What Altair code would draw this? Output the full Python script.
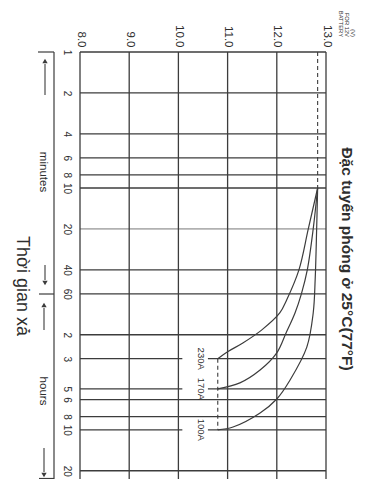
import altair as alt
import pandas as pd

# ---------------- data ----------------
volt_ticks = [8.0, 9.0, 10.0, 11.0, 12.0, 13.0]
grid_minutes = [1, 2, 4, 6, 8, 10, 20, 40, 60, 120, 180, 300, 360, 480, 600, 1200]

currents = ["230A", "170A", "100A"]
end_minutes = [180, 300, 600]
initial_v = 12.83
cutoff_v = 10.8

t_230A = [10, 20, 40, 66.6, 83, 111, 138, 160, 180]
v_230A = [12.83, 12.64, 12.45, 12.20, 12.06, 11.69, 11.31, 11.0, 10.8]

t_170A = [10, 20, 40, 60, 83, 116, 163, 218, 271, 300]
v_170A = [12.83, 12.74, 12.62, 12.50, 12.37, 12.19, 12.0, 11.66, 11.25, 10.8]

t_100A = [10, 20, 47, 83, 148, 258, 356, 451, 572, 600]
v_100A = [12.83, 12.81, 12.78, 12.74, 12.61, 12.27, 12.0, 11.66, 11.11, 10.8]

title_text = "Đặc tuyến phóng ở 25°C(77°F)"
x_title = "Thời gian xả"
unit_lines = ["(V)", "FOR 12V", "BATTERY"]

# ---------------- layout constants ----------------
T_MIN, T_MAX = 1, 1380
V_MIN, V_MAX = 8.0, 13.0
LABEL_V = 10.45
GAP_LO, GAP_HI = 10.08, 10.6
W, H = 246, 427
FONT = "Liberation Sans"
INK = "#3c3c3c"
TXT = "#2e2e2e"

xscale = alt.Scale(domain=[V_MIN, V_MAX], nice=False, zero=False)
yscale = alt.Scale(type="log", domain=[T_MIN, T_MAX], nice=False, reverse=True)

xaxis = alt.Axis(orient="top", values=volt_ticks, format=".1f", labelAngle=90,
                 labelAlign="right", labelBaseline="middle", labelPadding=5,
                 ticks=False, tickSize=0, domain=False, grid=False, title=None,
                 labelFontSize=11.5, labelFont=FONT, labelColor=TXT,
                 labelFlush=False, labelOverlap=False)
yaxis = alt.Axis(values=grid_minutes,
                 labelExpr="datum.value > 60 ? format(datum.value / 60, 'd') : format(datum.value, 'd')",
                 labelAngle=90, labelAlign="center", labelBaseline="top", labelPadding=9,
                 ticks=False, tickSize=0, domain=False, grid=False, title=None,
                 labelFontSize=10, labelFont=FONT, labelColor=TXT,
                 labelFlush=False, labelOverlap=False)

X = lambda f="v": alt.X(f"{f}:Q", scale=xscale, axis=xaxis)
Y = lambda f="t": alt.Y(f"{f}:Q", scale=yscale, axis=yaxis)

# curves table
rows = []
for name, ts, vs in [("230A", t_230A, v_230A), ("170A", t_170A, v_170A), ("100A", t_100A, v_100A)]:
    for i, (t, v) in enumerate(zip(ts, vs)):
        rows.append({"series": name, "i": i, "t": t, "v": v})
curves = pd.DataFrame(rows)

# horizontal gridlines (split where the current labels sit)
hrows = []
for t in grid_minutes:
    if t in end_minutes:
        hrows.append({"t": t, "v": V_MIN, "v2": GAP_LO, "thin": 0})
        hrows.append({"t": t, "v": GAP_HI, "v2": V_MAX, "thin": 0})
    else:
        hrows.append({"t": t, "v": V_MIN, "v2": V_MAX, "thin": 1 if t == 20 else 0})
hgrid = pd.DataFrame(hrows)

vgrid = pd.DataFrame({"v": volt_ticks, "t": [T_MIN] * len(volt_ticks), "t2": [T_MAX] * len(volt_ticks)})

dash_df = pd.DataFrame({"v": [initial_v, cutoff_v], "t": [T_MIN, end_minutes[0]], "t2": [10, end_minutes[-1]]})

labels_df = pd.DataFrame({"label": currents, "t": end_minutes, "v": [LABEL_V] * 3})

dummy = pd.DataFrame({"k": [0]})

layers = []

layers.append(alt.Chart(vgrid).mark_rule(color=INK, strokeWidth=1.3).encode(
    x=X(), y=Y(), y2="t2:Q"))

layers.append(alt.Chart(hgrid).mark_rule(color=INK).encode(
    x=X(), x2="v2:Q", y=Y(),
    strokeWidth=alt.condition("datum.thin == 1", alt.value(0.7), alt.value(1.3))))

layers.append(alt.Chart(dash_df).mark_rule(color=INK, strokeWidth=1.1, strokeDash=[4, 3]).encode(
    x=X(), y=Y(), y2="t2:Q"))

layers.append(alt.Chart(curves).mark_line(color=INK, strokeWidth=1.2, interpolate="catmull-rom").encode(
    x=X(), y=Y(), detail="series:N", order=alt.Order("i:Q")))

layers.append(alt.Chart(labels_df).mark_text(angle=90, align="center", baseline="middle",
                                             fontSize=9.5, font=FONT, color=TXT).encode(
    x=X(), y=Y(), text="label:N"))

# left bracket with arrows
def rule_px(x1, y1, x2=None, y2=None, w=1.2):
    enc = dict(x=alt.value(x1), y=alt.value(y1))
    if x2 is not None:
        enc["x2"] = alt.value(x2)
    if y2 is not None:
        enc["y2"] = alt.value(y2)
    return alt.Chart(dummy).mark_rule(color=INK, strokeWidth=w).encode(**enc)

def head(x, y, shape):
    return alt.Chart(dummy).mark_point(shape=shape, filled=True, size=28, color=INK, opacity=1).encode(
        x=alt.value(x), y=alt.value(y))

layers += [
    rule_px(-26, 0, y2=H),
    rule_px(-42, 0, x2=-26),
    rule_px(-41, 242, x2=-26),
    rule_px(-41, H - 0.5, x2=-26),
    rule_px(-35, 43, y2=12, w=1.1), head(-35, 9, "triangle-up"),
    rule_px(-35, 213, y2=228, w=1.1), head(-35, 231, "triangle-down"),
    rule_px(-36, 278, y2=256, w=1.1), head(-36, 253, "triangle-up"),
    rule_px(-36, 396, y2=420, w=1.1), head(-36, 423, "triangle-down"),
]

def text_px(s, x, y, size, bold=False, align="center"):
    return alt.Chart(pd.DataFrame({"label": [s]})).mark_text(
        angle=90, align=align, baseline="middle", fontSize=size, font=FONT, color=TXT,
        fontWeight="bold" if bold else "normal").encode(
        x=alt.value(x), y=alt.value(y), text="label:N")

layers += [
    text_px("minutes", -37, 120, 11.5),
    text_px("hours", -37, 339, 11.5),
    text_px(x_title, -58, 234, 18),
    text_px(title_text, 267, 207, 15.5, bold=True),
    text_px(unit_lines[0], 273, -15, 5.8, align="right"),
    text_px(unit_lines[1], 267, -15, 5.8, align="right"),
    text_px(unit_lines[2], 261, -15, 5.8, align="right"),
]

chart = alt.layer(*layers).properties(
    width=W, height=H,
    autosize=alt.AutoSizeParams(type="none"),
    padding={"left": 72, "top": 44, "right": 31, "bottom": 0},
    background="white",
).configure_view(stroke=None)

chart.save("out.html", embed_options={"renderer": "svg", "actions": False})
